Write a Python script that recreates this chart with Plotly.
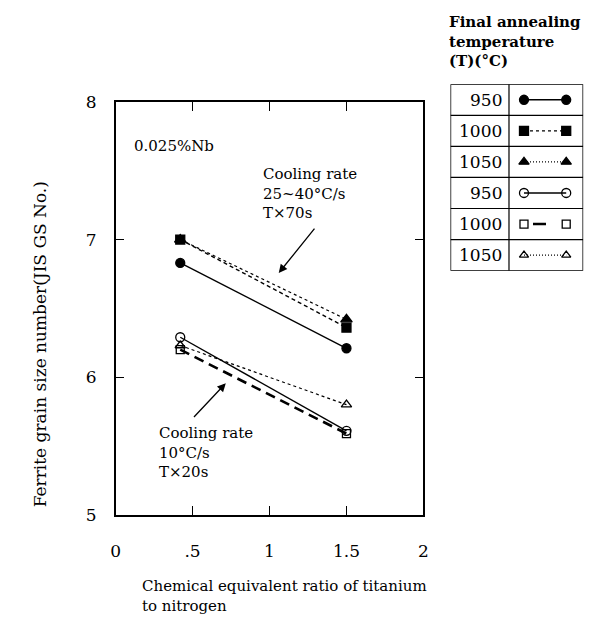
import plotly.graph_objects as go

# ---------------- data ----------------
ratio = [0.42, 1.5]
fast_950 = [6.83, 6.21]
fast_1000 = [7.00, 6.36]
fast_1050 = [7.00, 6.42]
slow_950 = [6.29, 5.61]
slow_1000 = [6.20, 5.59]
slow_1050 = [6.23, 5.80]

x_ticks = [0, 0.5, 1, 1.5, 2]
x_ticktext = ["0", ".5", "1", "1.5", "2"]
y_ticks = [5, 6, 7, 8]

legend_temps = ["950", "1000", "1050", "950", "1000", "1050"]
legend_x = [0.554, 0.872]

FONT = "DejaVu Serif"
W, H = 600, 623

def px(xp):
    return xp / W

def py(yp):
    return (H - yp) / H

series = [
    # (values, marker symbol, size, dash, width)
    (fast_1050, "triangle-up", 10, "dot", 1.2),
    (fast_950, "circle", 9, "solid", 1.4),
    (fast_1000, "square", 9, "4px,3px", 1.4),
    (slow_1050, "triangle-up-open", 9, "dot", 1.2),
    (slow_950, "circle-open", 9, "solid", 1.4),
    (slow_1000, "square-open", 8, "10px,6px", 2.6),
]

fig = go.Figure()
for vals, sym, size, dash, lw in series:
    fig.add_trace(go.Scatter(
        x=ratio, y=vals, mode="lines+markers",
        line=dict(color="black", width=lw, dash=dash),
        marker=dict(symbol=sym, size=size, color="black",
                    line=dict(color="black", width=1.3)),
        showlegend=False, xaxis="x", yaxis="y", cliponaxis=False,
    ))

# legend table samples
leg_styles = [
    ("circle", 9, "solid", 1.4),
    ("square", 9, "3px,3px", 1.4),
    ("triangle-up", 9, "1px,2px", 1.2),
    ("circle-open", 9, "solid", 1.4),
    ("square-open", 8, "0px,9px,13px,100px", 2.4),
    ("triangle-up-open", 8, "1px,2px", 1.2),
]
for i, (sym, size, dash, lw) in enumerate(leg_styles):
    yc = 6 - i - 0.5
    fig.add_trace(go.Scatter(
        x=legend_x, y=[yc, yc], mode="lines+markers",
        line=dict(color="black", width=lw, dash=dash),
        marker=dict(symbol=sym, size=size, color="black",
                    line=dict(color="black", width=1.3)),
        showlegend=False, xaxis="x2", yaxis="y2",
    ))

shapes = []
shapes.append(dict(type="rect", xref="x2", yref="y2", x0=0, x1=1, y0=0, y1=6,
                   line=dict(color="black", width=1.5)))
for r in range(1, 6):
    shapes.append(dict(type="line", xref="x2", yref="y2", x0=0, x1=1, y0=r, y1=r,
                       line=dict(color="black", width=1.2)))
shapes.append(dict(type="line", xref="x2", yref="y2", x0=0.441, x1=0.441, y0=0, y1=6,
                   line=dict(color="black", width=1.2)))

annotations = []
for i, t in enumerate(legend_temps):
    annotations.append(dict(xref="x2", yref="y2", x=0.40, y=6 - i - 0.5, text=t,
                            showarrow=False, xanchor="right", yanchor="middle",
                            font=dict(family=FONT, size=17, color="black")))

annotations.append(dict(xref="paper", yref="paper", x=px(449), y=py(1),
                        text="<b>Final annealing</b><br><b>temperature</b><br><b>(T)(°C)</b>",
                        showarrow=False, xanchor="left", yanchor="top", align="left",
                        font=dict(family=FONT, size=15, color="black")))

annotations.append(dict(xref="paper", yref="paper", x=px(129), y=py(140),
                        text="0.025%Nb", showarrow=False, xanchor="left", yanchor="middle",
                        font=dict(family=FONT, size=15, color="black")))

annotations.append(dict(xref="paper", yref="paper", x=px(260), y=py(158),
                        text="Cooling rate<br>25~40°C/s<br>T×70s", showarrow=False,
                        xanchor="left", yanchor="top", align="left",
                        font=dict(family=FONT, size=15, color="black")))

annotations.append(dict(xref="paper", yref="paper", x=px(155), y=py(426),
                        text="Cooling rate<br>10°C/s<br>T×20s", showarrow=False,
                        xanchor="left", yanchor="top", align="left",
                        font=dict(family=FONT, size=15, color="black")))

# arrows
annotations.append(dict(xref="x", yref="y", axref="x", ayref="y",
                        x=1.06, y=6.757, ax=1.30, ay=7.09, text="",
                        showarrow=True, arrowhead=2, arrowsize=1.3, arrowwidth=1.3,
                        arrowcolor="black"))
annotations.append(dict(xref="x", yref="y", axref="x", ayref="y",
                        x=0.716, y=5.956, ax=0.50, ay=5.70, text="",
                        showarrow=True, arrowhead=2, arrowsize=1.3, arrowwidth=1.3,
                        arrowcolor="black"))

# axis titles
annotations.append(dict(xref="paper", yref="paper", x=px(137), y=py(584),
                        text="Chemical equivalent ratio of titanium<br>to nitrogen",
                        showarrow=False, xanchor="left", yanchor="top", align="left",
                        font=dict(family=FONT, size=15, color="black")))
annotations.append(dict(xref="paper", yref="paper", x=px(36), y=py(345),
                        text="Ferrite grain size number(JIS GS No.)", textangle=-90,
                        showarrow=False, xanchor="center", yanchor="middle",
                        font=dict(family=FONT, size=17, color="black")))

fig.update_layout(
    width=W, height=H,
    margin=dict(l=0, r=0, t=0, b=0),
    paper_bgcolor="white", plot_bgcolor="white",
    showlegend=False,
    font=dict(family=FONT, color="black"),
    xaxis=dict(domain=[px(112.5), px(425.5)], range=[0, 2],
               tickvals=x_ticks, ticktext=x_ticktext,
               ticks="inside", ticklen=9, tickwidth=1.2, tickcolor="black",
               showline=True, linecolor="black", linewidth=1.5, mirror="ticks",
               showgrid=False, zeroline=False, anchor="y",
               tickfont=dict(family=FONT, size=17, color="black"),
               ticklabelstandoff=20),
    yaxis=dict(domain=[py(521.5), py(95)], range=[5, 8],
               tickvals=y_ticks,
               ticks="inside", ticklen=9, tickwidth=1.2, tickcolor="black",
               showline=True, linecolor="black", linewidth=1.5, mirror="ticks",
               showgrid=False, zeroline=False, anchor="x",
               tickfont=dict(family=FONT, size=17, color="black"),
               ticklabelstandoff=14),
    xaxis2=dict(domain=[px(453), px(588)], range=[0, 1], visible=False,
                anchor="y2", fixedrange=True),
    yaxis2=dict(domain=[py(269.3), py(76.7)], range=[0, 6], visible=False,
                anchor="x2", fixedrange=True),
    shapes=shapes,
    annotations=annotations,
)

fig.write_html("out.html")
